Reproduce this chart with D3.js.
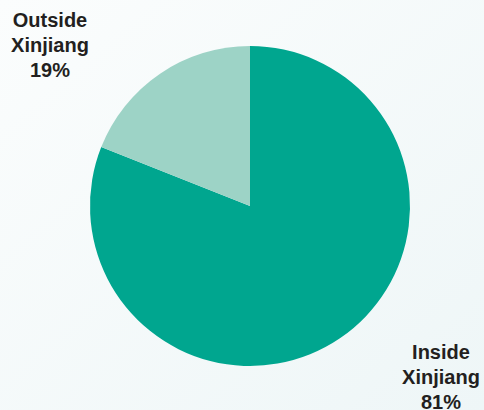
<!DOCTYPE html>
<html>
<head>
<meta charset="utf-8">
<script src="https://cdn.jsdelivr.net/npm/d3@7"></script>
<style>
  html, body { margin: 0; padding: 0; background: #f4f9f9; }
</style>
</head>
<body>
<div id="pieChart"></div>
<script>
var categories = ['Inside Xinjiang', 'Outside Xinjiang'];
var shares     = [81, 19];
var labels     = [['Inside', 'Xinjiang', '81%'], ['Outside', 'Xinjiang', '19%']];
var colours    = ['#00a68f', '#9dd3c6'];

var chart_width  = 484;
var chart_height = 410;
var cx = 250, cy = 206, radius = 160;

var svg = d3.select('#pieChart')
	.append('svg')
	.attr('width', chart_width)
	.attr('height', chart_height);

// soft background wash
var grad = svg.append('defs').append('linearGradient')
	.attr('id', 'bg')
	.attr('x1', 0).attr('y1', 0).attr('x2', 1).attr('y2', 1);
grad.append('stop').attr('offset', 0).attr('stop-color', '#fbfdfd');
grad.append('stop').attr('offset', 1).attr('stop-color', '#eef6f7');
svg.append('rect')
	.attr('width', chart_width)
	.attr('height', chart_height)
	.attr('fill', 'url(#bg)');

var data = categories.map(function(c, i) {
	return { name: c, value: shares[i], lines: labels[i], colour: colours[i] };
});

var pie = d3.pie()
	.sort(null)
	.value(function(d) { return d.value; });

var arc = d3.arc()
	.innerRadius(0)
	.outerRadius(radius);

var g = svg.append('g')
	.attr('transform', 'translate(' + cx + ',' + cy + ')');

g.selectAll('path')
	.data(pie(data))
	.enter()
	.append('path')
	.attr('d', arc)
	.attr('fill', function(d) { return d.data.colour; });

// label positions (outside the pie)
var label_pos = [[441, 359], [50, 27]];

data.forEach(function(d, i) {
	var t = svg.append('text')
		.attr('x', label_pos[i][0])
		.attr('y', label_pos[i][1])
		.attr('text-anchor', 'middle')
		.attr('font-family', 'Liberation Sans, Arial, sans-serif')
		.attr('font-weight', 'bold')
		.attr('font-size', 20)
		.attr('fill', '#231f20');
	d.lines.forEach(function(line, j) {
		t.append('tspan')
			.attr('x', label_pos[i][0])
			.attr('dy', j === 0 ? 0 : 25)
			.text(line);
	});
});
</script>
</body>
</html>
